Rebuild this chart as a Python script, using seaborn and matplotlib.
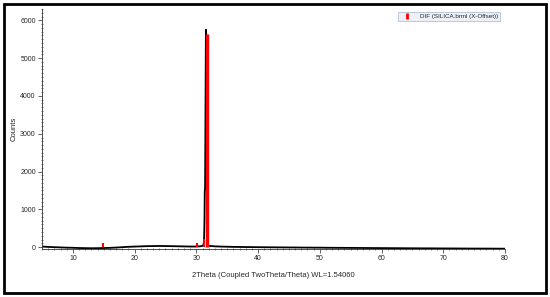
import matplotlib
matplotlib.use("Agg")
import matplotlib.pyplot as plt
from matplotlib.lines import Line2D
from matplotlib.patches import Rectangle
from matplotlib.ticker import MultipleLocator
import pandas as pd
import seaborn as sns

two_theta = [5, 6, 7, 8, 9, 10, 11, 12, 13, 14, 15, 16, 17, 18, 19, 20,
             21, 22, 23, 24, 25, 26, 27, 28, 29, 30, 30.5, 31, 31.15, 31.25,
             31.32, 31.36, 31.42, 31.48, 31.55, 31.6, 31.66, 31.72, 31.78,
             31.85, 32, 32.5, 33, 34, 35, 36, 38, 40, 42, 44, 46, 48, 50, 52,
             54, 56, 58, 60, 62, 64, 66, 68, 70, 72, 74, 76, 78, 80]
counts = [15, 5, -2, -8, -14, -18, -24, -27, -30, -28, -24, -20, -12, -2,
          8, 14, 20, 25, 28, 30, 28, 25, 22, 18, 15, 15, 20, 30, 60, 150,
          700, 1450, 1600, 3500, 5750, 5650, 3500, 900, 150, 40, 30, 28,
          20, 14, 10, 6, 2, -2, -5, -8, -10, -13, -15, -18, -20, -22, -24,
          -26, -28, -30, -32, -33, -35, -36, -38, -39, -40, -42]

# reference pattern sticks
ref_pos = [14.9, 30.1, 31.25, 31.65]
ref_int = [100, 120, 220, 5650]

df = pd.DataFrame({"2Theta": two_theta, "Counts": counts})

sns.set_style("white")
plt.rcParams["font.family"] = ["Liberation Sans", "DejaVu Sans"]

fig = plt.figure(figsize=(5.5, 2.97), dpi=100)
ax = fig.add_axes([42 / 550, 1 - 249 / 297, 463 / 550, 240 / 297])

sns.lineplot(data=df, x="2Theta", y="Counts", color="black", lw=1.3,
             sort=False, estimator=None, ax=ax)
ax.vlines(ref_pos[:3], 0, ref_int[:3], color="red", lw=1.5)
ax.vlines(ref_pos[3:], 0, ref_int[3:], color="red", lw=2.4)

ax.set_xlim(5, 80)
ax.set_ylim(-50, 6300)
sns.despine(ax=ax)
for s in ["left", "bottom"]:
    ax.spines[s].set_linewidth(0.6)
    ax.spines[s].set_color("#333333")

ax.xaxis.set_major_locator(MultipleLocator(10))
ax.xaxis.set_minor_locator(MultipleLocator(1))
ax.yaxis.set_major_locator(MultipleLocator(1000))
ax.yaxis.set_minor_locator(MultipleLocator(100))
ax.tick_params(which="major", length=3, width=0.5, labelsize=5, pad=1.5,
               direction="out", left=True, bottom=True)
ax.tick_params(which="minor", length=1.8, width=0.4, direction="inout",
               left=True, bottom=True)

ax.set_xlabel("2Theta (Coupled TwoTheta/Theta) WL=1.54060", fontsize=5.5)
ax.set_ylabel("Counts", fontsize=5.5)
ax.xaxis.set_label_coords(0.5, -23 / 240)
ax.yaxis.set_label_coords(-24 / 463, 0.5)

handle = Line2D([], [], ls="none", marker="|", ms=5, mew=2, color="red")
leg = ax.legend([handle], ["DIF (SILICA.brml (X-Offset))"], loc="upper right",
                bbox_to_anchor=(500 / 550, 1 - 12 / 297),
                bbox_transform=fig.transFigure, fontsize=4.5, frameon=True,
                fancybox=False, borderpad=0.25, handlelength=2.5,
                handletextpad=0.8, borderaxespad=0)
leg.get_frame().set_facecolor("#e9eef5")
leg.get_frame().set_edgecolor("#9fb3cc")
leg.get_frame().set_linewidth(0.6)

fig.patches.append(Rectangle((4 / 550, 4 / 297), 542 / 550, 289 / 297,
                             transform=fig.transFigure, fill=False,
                             edgecolor="black", lw=2))

fig.savefig("out.png", dpi=100)
